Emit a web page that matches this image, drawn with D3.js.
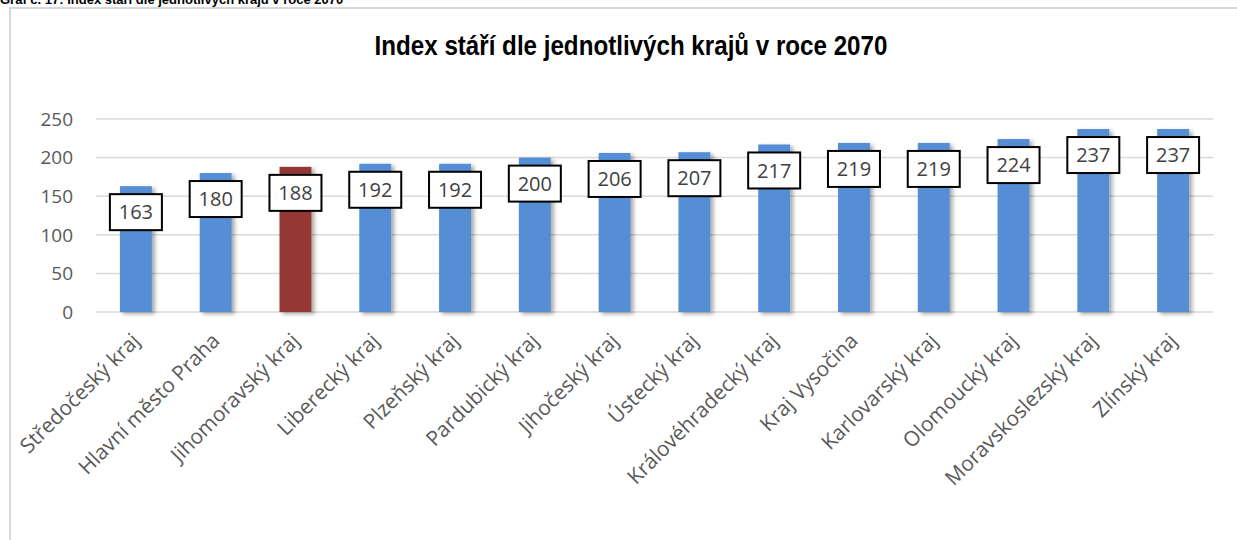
<!DOCTYPE html>
<html>
<head>
<meta charset="utf-8">
<script src="https://cdn.jsdelivr.net/npm/d3@7"></script>
<style>
  body { margin: 0; background: #fff; }
  .tick_lbl { font-family: "Open Sans", sans-serif; fill: #595959; }
</style>
</head>
<body>
<div id="chart"></div>
<script>
var
    regions = ['Středočeský kraj','Hlavní město Praha','Jihomoravský kraj','Liberecký kraj','Plzeňský kraj',
               'Pardubický kraj','Jihočeský kraj','Ústecký kraj','Královéhradecký kraj','Kraj Vysočina',
               'Karlovarský kraj','Olomoucký kraj','Moravskoslezský kraj','Zlínský kraj'],
    index_values = [163, 180, 188, 192, 192, 200, 206, 207, 217, 219, 219, 224, 237, 237],
    highlight = 'Jihomoravský kraj',
    y_ticks = [0, 50, 100, 150, 200, 250];

var width = 1237, height = 540,
    plotLeft = 96, plotRight = 1213, plotTop = 119, plotBottom = 312;

var svg = d3.select("#chart").append("svg")
    .attr("width", width)
    .attr("height", height);

var defs = svg.append("defs");
var flt = defs.append("filter").attr("id", "shadow")
    .attr("x", "-30%").attr("y", "-10%").attr("width", "170%").attr("height", "130%");
flt.append("feDropShadow")
    .attr("dx", 3).attr("dy", 2)
    .attr("stdDeviation", 2.2)
    .attr("flood-color", "#000")
    .attr("flood-opacity", 0.35);

// caption above frame (cut by page top)
svg.append("text")
    .attr("x", 0).attr("y", 4)
    .style("font-family", "Liberation Sans, Arial, sans-serif")
    .style("font-weight", "bold")
    .style("font-size", "13px")
    .attr("fill", "#000")
    .text("Graf č. 17: Index stáří dle jednotlivých krajů v roce 2070");

// chart frame
svg.append("path")
    .attr("d", "M10,541V8H1240")
    .attr("fill", "none")
    .attr("stroke", "#d9d9d9")
    .attr("stroke-width", 2);

// title (narrow bold)
svg.append("g")
    .attr("transform", "translate(631,55)scale(0.895,1)")
  .append("text")
    .attr("text-anchor", "middle")
    .style("font-family", "Liberation Sans, Arial, sans-serif")
    .style("font-weight", "bold")
    .style("font-size", "27px")
    .attr("fill", "#000")
    .text("Index stáří dle jednotlivých krajů v roce 2070");

var x = d3.scaleBand()
    .domain(regions)
    .range([plotLeft, plotRight])
    .paddingInner(0.6)
    .paddingOuter(0.3);

var y = d3.scaleLinear()
    .domain([0, 250])
    .range([plotBottom, plotTop]);

// gridlines
svg.append("g")
    .selectAll("line")
    .data(y_ticks)
  .enter().append("line")
    .attr("x1", plotLeft).attr("x2", plotRight)
    .attr("y1", function(d) { return y(d); })
    .attr("y2", function(d) { return y(d); })
    .attr("stroke", "#d9d9d9")
    .attr("stroke-width", 1.5);

// y axis labels
svg.append("g")
    .selectAll("text")
    .data(y_ticks)
  .enter().append("text")
    .attr("class", "tick_lbl")
    .attr("x", 73)
    .attr("y", function(d) { return y(d); })
    .attr("dy", "0.36em")
    .attr("text-anchor", "end")
    .style("font-size", "19px")
    .text(function(d) { return d; });

// bars
svg.append("g")
    .selectAll("rect")
    .data(index_values)
  .enter().append("rect")
    .attr("x", function(d, i) { return x(regions[i]); })
    .attr("y", function(d) { return y(d); })
    .attr("width", x.bandwidth())
    .attr("height", function(d) { return y(0) - y(d); })
    .attr("fill", function(d, i) { return regions[i] == highlight ? "#953735" : "#558ed5"; })
    .attr("filter", "url(#shadow)");

// data labels
var lbl = svg.append("g")
    .selectAll("g")
    .data(index_values)
  .enter().append("g")
    .attr("transform", function(d, i) {
        return "translate(" + (x(regions[i]) + x.bandwidth() / 2) + "," + (y(d) + 26) + ")";
    });

lbl.append("rect")
    .attr("x", -26).attr("y", -18)
    .attr("width", 52).attr("height", 36)
    .attr("fill", "#fff")
    .attr("stroke", "#000")
    .attr("stroke-width", 2);

lbl.append("text")
    .attr("text-anchor", "middle")
    .attr("dy", "0.36em")
    .style("font-family", "Open Sans, sans-serif")
    .style("font-size", "20px")
    .attr("fill", "#404040")
    .text(function(d) { return d; });

// category labels
svg.append("g")
    .selectAll("text")
    .data(regions)
  .enter().append("text")
    .attr("class", "tick_lbl")
    .attr("text-anchor", "end")
    .style("font-size", "20.8px")
    .attr("transform", function(d) {
        return "translate(" + (x(d) + x.bandwidth() / 2) + "," + (plotBottom + 25) + ")rotate(-45)";
    })
    .attr("dy", "0.35em")
    .text(function(d) { return d; });
</script>
</body>
</html>
